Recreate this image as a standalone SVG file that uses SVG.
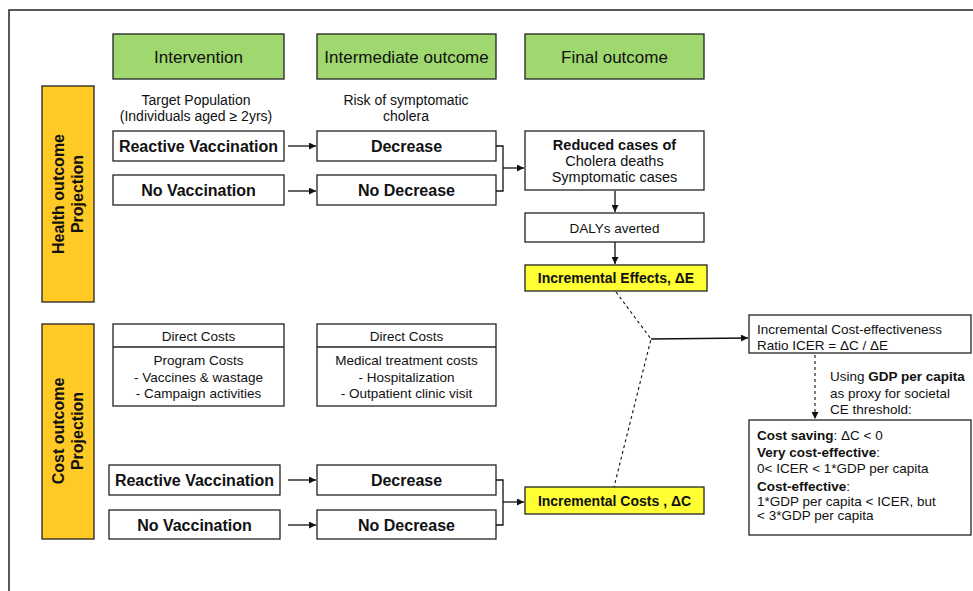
<svg xmlns="http://www.w3.org/2000/svg" width="973" height="591" viewBox="0 0 973 591">
<style>
text{font-family:"Liberation Sans",Arial,sans-serif;fill:#111;}
.box{fill:#fff;stroke:#222;stroke-width:1.3;}
.hdr{fill:#9fd86e;stroke:#222;stroke-width:1.3;}
.side{fill:#ffc926;stroke:#222;stroke-width:1.3;}
.ybox{fill:#ffff33;stroke:#222;stroke-width:1.3;}
.h{font-size:17px;text-anchor:middle;}
.b{font-size:16px;font-weight:bold;text-anchor:middle;}
.s{font-size:14px;text-anchor:middle;}
.sm{font-size:13.5px;text-anchor:middle;}
.sl{font-size:13.5px;}
.yb{font-size:14px;font-weight:bold;text-anchor:middle;}
.vt{font-size:16px;font-weight:bold;text-anchor:middle;}
.ln{fill:none;stroke:#111;stroke-width:1.3;}
.ds{fill:none;stroke:#111;stroke-width:1.1;stroke-dasharray:3,3;}
</style>
<defs>
<marker id="ah" viewBox="0 0 10 10" refX="10" refY="5" markerWidth="8" markerHeight="7" markerUnits="userSpaceOnUse" orient="auto">
<path d="M0,0 L10,5 L0,10 z" fill="#111"/>
</marker>
</defs>
<g id="frame">
<path d="M9,591 V10 H973" fill="none" stroke="#222" stroke-width="1.5"/>
</g>
<g id="hdr-intervention"><rect class="hdr" x="113" y="34" width="171" height="45"/><text class="h" x="198.5" y="62.5">Intervention</text></g>
<g id="hdr-intermediate"><rect class="hdr" x="317" y="34" width="179" height="45"/><text class="h" x="406.5" y="62.5">Intermediate outcome</text></g>
<g id="hdr-final"><rect class="hdr" x="525" y="34" width="179" height="45"/><text class="h" x="614.5" y="62.5">Final outcome</text></g>
<g id="side-health"><rect class="side" x="42" y="86" width="52" height="216"/>
<text class="vt" transform="translate(64,194) rotate(-90)">Health outcome</text>
<text class="vt" transform="translate(83,194) rotate(-90)">Projection</text></g>
<g id="side-cost"><rect class="side" x="42" y="324" width="52" height="215"/>
<text class="vt" transform="translate(64,431) rotate(-90)">Cost outcome</text>
<text class="vt" transform="translate(83,431) rotate(-90)">Projection</text></g>
<g id="lbl-target"><text class="s" x="196" y="105">Target Population</text><text class="s" x="196" y="121">(Individuals aged ≥ 2yrs)</text></g>
<g id="lbl-risk"><text class="s" x="406" y="105">Risk of symptomatic</text><text class="s" x="406" y="121">cholera</text></g>
<g id="h-reactive"><rect class="box" x="113" y="131" width="171" height="30"/><text class="b" x="198.5" y="152">Reactive Vaccination</text></g>
<g id="h-novac"><rect class="box" x="113" y="175" width="171" height="30"/><text class="b" x="198.5" y="196">No Vaccination</text></g>
<g id="h-decrease"><rect class="box" x="317" y="131" width="179" height="30"/><text class="b" x="406.5" y="152">Decrease</text></g>
<g id="h-nodecrease"><rect class="box" x="317" y="175" width="179" height="30"/><text class="b" x="406.5" y="196">No Decrease</text></g>
<g id="reduced"><rect class="box" x="525" y="131" width="179" height="59"/>
<text x="614.5" y="150" style="font-size:14.5px;font-weight:bold;text-anchor:middle">Reduced cases of</text>
<text x="614.5" y="166" style="font-size:14.5px;text-anchor:middle">Cholera deaths</text>
<text x="614.5" y="182" style="font-size:14.5px;text-anchor:middle">Symptomatic cases</text></g>
<g id="dalys"><rect class="box" x="525" y="213" width="179" height="29"/><text class="sm" x="614.5" y="232.5">DALYs averted</text></g>
<g id="inc-effects"><rect class="ybox" x="525" y="265" width="182" height="26"/><text class="yb" x="616" y="283">Incremental Effects, ΔE</text></g>
<g id="dc-program"><rect class="box" x="113" y="324" width="171" height="82"/><line x1="113" y1="347" x2="284" y2="347" stroke="#222" stroke-width="1.3"/>
<text class="sm" x="198.5" y="341">Direct Costs</text>
<text class="sm" x="198.5" y="365">Program Costs</text>
<text class="sm" x="198.5" y="382">- Vaccines &amp; wastage</text>
<text class="sm" x="198.5" y="398">- Campaign activities</text></g>
<g id="dc-medical"><rect class="box" x="317" y="324" width="179" height="82"/><line x1="317" y1="347" x2="496" y2="347" stroke="#222" stroke-width="1.3"/>
<text class="sm" x="406.5" y="341">Direct Costs</text>
<text class="sm" x="406.5" y="365">Medical treatment costs</text>
<text class="sm" x="406.5" y="382">- Hospitalization</text>
<text class="sm" x="406.5" y="398">- Outpatient clinic visit</text></g>
<g id="c-reactive"><rect class="box" x="109" y="465" width="171" height="30"/><text class="b" x="194.5" y="486">Reactive Vaccination</text></g>
<g id="c-novac"><rect class="box" x="109" y="510" width="171" height="29"/><text class="b" x="194.5" y="530.5">No Vaccination</text></g>
<g id="c-decrease"><rect class="box" x="317" y="465" width="179" height="30"/><text class="b" x="406.5" y="486">Decrease</text></g>
<g id="c-nodecrease"><rect class="box" x="317" y="510" width="179" height="29"/><text class="b" x="406.5" y="530.5">No Decrease</text></g>
<g id="inc-costs"><rect class="ybox" x="525" y="487" width="179" height="27"/><text class="yb" x="614.5" y="505.5">Incremental Costs , ΔC</text></g>
<g id="icer"><rect class="box" x="749" y="315" width="222" height="38"/>
<text class="sl" x="757" y="334">Incremental Cost-effectiveness</text>
<text class="sl" x="757" y="349.5">Ratio ICER = ΔC / ΔE</text></g>
<g id="lbl-gdp">
<text class="sl" x="830" y="381">Using <tspan font-weight="bold">GDP per capita</tspan></text>
<text class="sl" x="830" y="398">as proxy for societal</text>
<text class="sl" x="830" y="414">CE threshold:</text></g>
<g id="criteria"><rect class="box" x="749" y="420" width="222" height="115"/>
<text class="sl" x="757" y="440"><tspan font-weight="bold">Cost saving</tspan>: ΔC &lt; 0</text>
<text class="sl" x="757" y="457"><tspan font-weight="bold">Very cost-effective</tspan>:</text>
<text class="sl" x="757" y="473">0&lt; ICER &lt; 1*GDP per capita</text>
<text class="sl" x="757" y="491"><tspan font-weight="bold">Cost-effective</tspan>:</text>
<text class="sl" x="757" y="506">1*GDP per capita &lt; ICER, but</text>
<text class="sl" x="757" y="520">&lt; 3*GDP per capita</text></g>
<g id="connectors">
<path class="ln" d="M288,146 H316" marker-end="url(#ah)"/>
<path class="ln" d="M288,191 H316" marker-end="url(#ah)"/>
<path class="ln" d="M496,146 H503 V191 H496"/>
<path class="ln" d="M503,168 H524" marker-end="url(#ah)"/>
<path class="ln" d="M615,191 V212" marker-end="url(#ah)"/>
<path class="ln" d="M615,242 V264" marker-end="url(#ah)"/>
<path class="ln" d="M288,480 H316" marker-end="url(#ah)"/>
<path class="ln" d="M288,525 H316" marker-end="url(#ah)"/>
<path class="ln" d="M496,480 H503 V525 H496"/>
<path class="ln" d="M503,502 H524" marker-end="url(#ah)"/>
<path class="ds" d="M616,292 L651,339 L614,487"/>
<path class="ln" d="M651,339 L748,338" marker-end="url(#ah)"/>
<path class="ds" d="M815,355 V419" marker-end="url(#ah)"/>
</g>
</svg>
